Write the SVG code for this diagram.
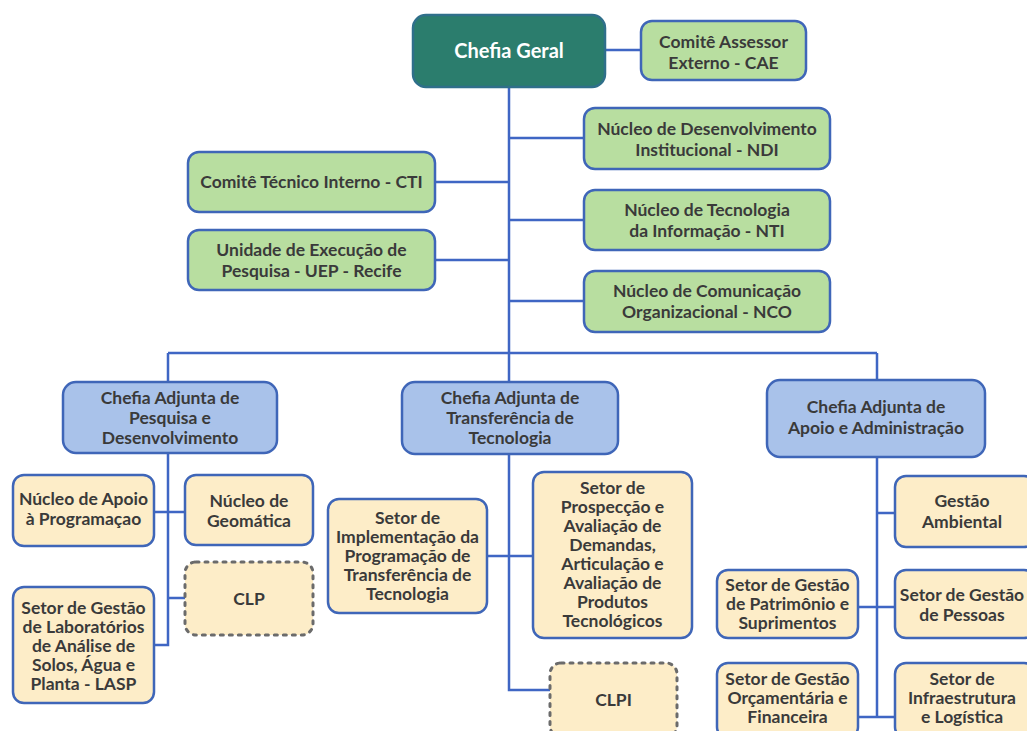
<svg xmlns="http://www.w3.org/2000/svg" width="1027" height="731" viewBox="0 0 1027 731">
<style>
.g{fill:#b8dea0;stroke:#3f66b8;stroke-width:2.5}
.b{fill:#a9c2ea;stroke:#3f66b8;stroke-width:2.5}
.y{fill:#fdedc8;stroke:#3f66b8;stroke-width:2.5}
.d{fill:#fdedc8;stroke:#6b6b6b;stroke-width:3;stroke-dasharray:3 6;stroke-linecap:round}
.top{fill:#2b7d6d;stroke:#2f6f8a;stroke-width:2.5}
text{font-family:Lato,"Liberation Sans",sans-serif;font-weight:bold;font-size:17.5px;fill:#3a3a3a;text-anchor:middle}
.w{fill:#ffffff;font-size:20px}
.c{fill:none;stroke:#3f66c4;stroke-width:2.5}
</style>
<rect width="1027" height="731" fill="#ffffff"/>
<g id="connectors" class="c">
<path d="M509 87V353M605 50H641M509 138H584M435 182H509M509 220H584M435 260H509M509 301H584"/>
<path d="M168 353H877M168 353V382M509 353V382M877 353V380"/>
<path d="M168 453V645H154M154 512H185M168 598H185"/>
<path d="M509 454V690H550M487 556H533"/>
<path d="M877 457V717M877 513H895M858 607H895M858 717H895"/>
</g>
<g id="chefia-geral"><rect class="top" x="413" y="15" width="192" height="72" rx="13"/><text class="w" x="509" y="58">Chefia Geral</text></g>
<g id="cae"><rect class="g" x="641" y="21" width="165" height="59" rx="11"/><text x="723.5" y="48">Comitê Assessor</text><text x="723.5" y="69">Externo - CAE</text></g>
<g id="ndi"><rect class="g" x="584" y="108" width="246" height="61" rx="11"/><text x="707" y="135">Núcleo de Desenvolvimento</text><text x="707" y="156">Institucional - NDI</text></g>
<g id="cti"><rect class="g" x="188" y="152" width="247" height="60" rx="11"/><text x="311.5" y="188">Comitê Técnico Interno - CTI</text></g>
<g id="nti"><rect class="g" x="584" y="190" width="246" height="60" rx="11"/><text x="707" y="216">Núcleo de Tecnologia</text><text x="707" y="237">da Informação - NTI</text></g>
<g id="uep"><rect class="g" x="188" y="230" width="247" height="60" rx="11"/><text x="311.5" y="256">Unidade de Execução de</text><text x="311.5" y="277">Pesquisa - UEP - Recife</text></g>
<g id="nco"><rect class="g" x="584" y="271" width="246" height="61" rx="11"/><text x="707" y="297">Núcleo de Comunicação</text><text x="707" y="318">Organizacional - NCO</text></g>
<g id="ca-pd"><rect class="b" x="63" y="382" width="214" height="71" rx="13"/><text x="170" y="404">Chefia Adjunta de</text><text x="170" y="424">Pesquisa e</text><text x="170" y="444">Desenvolvimento</text></g>
<g id="ca-tt"><rect class="b" x="402" y="382" width="216" height="72" rx="13"/><text x="510" y="404">Chefia Adjunta de</text><text x="510" y="424">Transferência de</text><text x="510" y="444">Tecnologia</text></g>
<g id="ca-aa"><rect class="b" x="767" y="380" width="218" height="77" rx="13"/><text x="876" y="413">Chefia Adjunta de</text><text x="876" y="434">Apoio e Administração</text></g>
<g id="nap"><rect class="y" x="13" y="475" width="141" height="71" rx="11"/><text x="83.5" y="505">Núcleo de Apoio</text><text x="83.5" y="525">à Programaçao</text></g>
<g id="geo"><rect class="y" x="185" y="475" width="128" height="70" rx="11"/><text x="249" y="507">Núcleo de</text><text x="249" y="527">Geomática</text></g>
<g id="clp"><rect class="d" x="185" y="562" width="128" height="73" rx="11"/><text x="249" y="605">CLP</text></g>
<g id="lasp"><rect class="y" x="13" y="587" width="141" height="116" rx="11"/><text x="83.5" y="614">Setor de Gestão</text><text x="83.5" y="633">de Laboratórios</text><text x="83.5" y="652">de Análise de</text><text x="83.5" y="671">Solos, Água e</text><text x="83.5" y="690">Planta - LASP</text></g>
<g id="impl"><rect class="y" x="328" y="499" width="159" height="114" rx="11"/><text x="407.5" y="524">Setor de</text><text x="407.5" y="543">Implementação da</text><text x="407.5" y="562">Programação de</text><text x="407.5" y="581">Transferência de</text><text x="407.5" y="600">Tecnologia</text></g>
<g id="prosp"><rect class="y" x="533" y="472" width="159" height="166" rx="11"/><text x="612.5" y="494">Setor de</text><text x="612.5" y="513">Prospecção e</text><text x="612.5" y="532">Avaliação de</text><text x="612.5" y="551">Demandas,</text><text x="612.5" y="570">Articulação e</text><text x="612.5" y="589">Avaliação de</text><text x="612.5" y="608">Produtos</text><text x="612.5" y="627">Tecnológicos</text></g>
<g id="clpi"><rect class="d" x="550" y="663" width="127" height="74" rx="11"/><text x="613.5" y="706">CLPI</text></g>
<g id="gamb"><rect class="y" x="895" y="476" width="140" height="71" rx="11"/><text x="962" y="507">Gestão</text><text x="962" y="528">Ambiental</text></g>
<g id="patr"><rect class="y" x="717" y="570" width="141" height="68" rx="11"/><text x="787.5" y="591">Setor de Gestão</text><text x="787.5" y="610">de Patrimônio e</text><text x="787.5" y="629">Suprimentos</text></g>
<g id="pess"><rect class="y" x="895" y="570" width="140" height="68" rx="11"/><text x="962" y="601">Setor de Gestão</text><text x="962" y="621">de Pessoas</text></g>
<g id="orc"><rect class="y" x="717" y="663" width="141" height="75" rx="11"/><text x="787.5" y="685">Setor de Gestão</text><text x="787.5" y="704">Orçamentária e</text><text x="787.5" y="723">Financeira</text></g>
<g id="infra"><rect class="y" x="895" y="663" width="140" height="75" rx="11"/><text x="962" y="685">Setor de</text><text x="962" y="704">Infraestrutura</text><text x="962" y="723">e Logística</text></g>
</svg>
